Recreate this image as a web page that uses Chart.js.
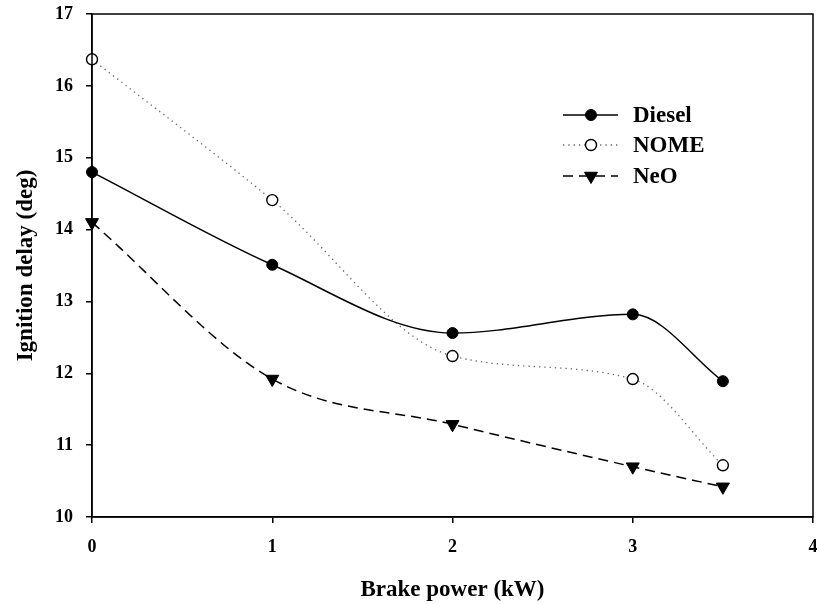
<!DOCTYPE html>
<html>
<head>
<meta charset="utf-8">
<script src="https://cdn.jsdelivr.net/npm/chart.js@4"></script>
<style>
  html, body { margin: 0; padding: 0; background: #fff; overflow: hidden; }
  canvas { display: block; }
</style>
</head>
<body>
<canvas id="myChart" width="817" height="604"></canvas>
<script>
// Data
const brakePower = [0, 1, 2, 3, 3.5];
const diesel = [14.80, 13.51, 12.56, 12.82, 11.89];
const nome = [16.37, 14.41, 12.24, 11.92, 10.72];
const neo = [14.10, 11.92, 11.29, 10.70, 10.42];
const xTicks = [0, 1, 2, 3, 4];
const yTicks = [10, 11, 12, 13, 14, 15, 16, 17];

const serif = "'Liberation Serif', 'Times New Roman', serif";

function pts(ys) {
  return brakePower.map((x, i) => ({ x: x, y: ys[i] }));
}

// frame round the plot + legend inside it
const framePlugin = {
  id: 'frame',
  afterDraw(chart) {
    const { ctx, chartArea: a } = chart;
    ctx.save();
    ctx.strokeStyle = '#000';
    ctx.lineWidth = 1.5;
    ctx.strokeRect(a.left, a.top, a.right - a.left, a.bottom - a.top);

    // legend
    const lx0 = 563, lx1 = 618, tx = 633;
    const rows = [115, 145, 176];
    chart.data.datasets.forEach((ds, i) => {
      const y = rows[i];
      ctx.save();
      ctx.strokeStyle = ds.borderColor;
      ctx.lineWidth = ds.borderWidth;
      ctx.setLineDash(ds.borderDash || []);
      ctx.beginPath();
      ctx.moveTo(lx0, y);
      ctx.lineTo(lx1, y);
      ctx.stroke();
      ctx.restore();

      ctx.save();
      ctx.fillStyle = ds.pointBackgroundColor;
      ctx.strokeStyle = ds.pointBorderColor;
      ctx.lineWidth = ds.pointBorderWidth;
      ctx.setLineDash([]);
      Chart.helpers.drawPoint(ctx, {
        pointStyle: ds.pointStyle,
        radius: ds.pointRadius,
        rotation: ds.pointRotation || 0,
        borderWidth: ds.pointBorderWidth
      }, 591, y);
      ctx.restore();

      ctx.fillStyle = '#000';
      ctx.font = "bold 23px " + serif;
      ctx.textBaseline = 'middle';
      ctx.textAlign = 'left';
      ctx.fillText(ds.label, tx, y + 1);
    });
    ctx.restore();
  }
};

const ctx = document.getElementById('myChart');

new Chart(ctx, {
  type: 'line',
  data: {
    datasets: [{
      label: 'Diesel',
      data: pts(diesel),
      borderColor: '#000',
      borderWidth: 1.5,
      pointStyle: 'circle',
      pointRadius: 5.5,
      pointBackgroundColor: '#000',
      pointBorderColor: '#000',
      pointBorderWidth: 1
    }, {
      label: 'NOME',
      data: pts(nome),
      borderColor: '#666',
      borderWidth: 1.3,
      borderDash: [1.3, 4],
      pointStyle: 'circle',
      pointRadius: 5.5,
      pointBackgroundColor: '#fff',
      pointBorderColor: '#000',
      pointBorderWidth: 1.4
    }, {
      label: 'NeO',
      data: pts(neo),
      borderColor: '#000',
      borderWidth: 1.5,
      borderDash: [10, 6],
      pointStyle: 'triangle',
      pointRotation: 180,
      pointRadius: 7.5,
      pointBackgroundColor: '#000',
      pointBorderColor: '#000',
      pointBorderWidth: 1
    }]
  },
  options: {
    responsive: false,
    animation: false,
    clip: false,
    layout: { autoPadding: false, padding: { left: 0, right: 4, top: 14, bottom: 0 } },
    elements: { line: { cubicInterpolationMode: 'monotone' } },
    scales: {
      x: {
        type: 'linear',
        min: 0,
        max: 4,
        afterFit: (s) => { s.height = 87; s.paddingLeft = 0; s.paddingRight = 0; },
        afterBuildTicks: (s) => { s.ticks = xTicks.map(v => ({ value: v })); },
        grid: { display: true, drawOnChartArea: false, tickLength: 6, color: '#000', lineWidth: 1.5 },
        border: { display: true, color: '#000', width: 1.5 },
        ticks: { color: '#000', padding: 14, font: { family: serif, size: 18, weight: 'bold' } },
        title: {
          display: true,
          text: 'Brake power (kW)',
          color: '#000',
          font: { family: serif, size: 23, weight: 'bold' },
          padding: { top: 0, bottom: 0 }
        }
      },
      y: {
        min: 10,
        max: 17,
        afterFit: (s) => { s.width = 92; s.paddingTop = 0; s.paddingBottom = 0; },
        afterBuildTicks: (s) => { s.ticks = yTicks.map(v => ({ value: v })); },
        grid: { display: true, drawOnChartArea: false, tickLength: 6, color: '#000', lineWidth: 1.5 },
        border: { display: true, color: '#000', width: 1.5 },
        ticks: { color: '#000', padding: 13, font: { family: serif, size: 18, weight: 'bold' } },
        title: {
          display: true,
          text: 'Ignition delay (deg)',
          color: '#000',
          font: { family: serif, size: 23, weight: 'bold' },
          padding: { top: 12, bottom: 0 }
        }
      }
    },
    plugins: {
      legend: { display: false },
      tooltip: { enabled: false }
    }
  },
  plugins: [framePlugin]
});
</script>
</body>
</html>
